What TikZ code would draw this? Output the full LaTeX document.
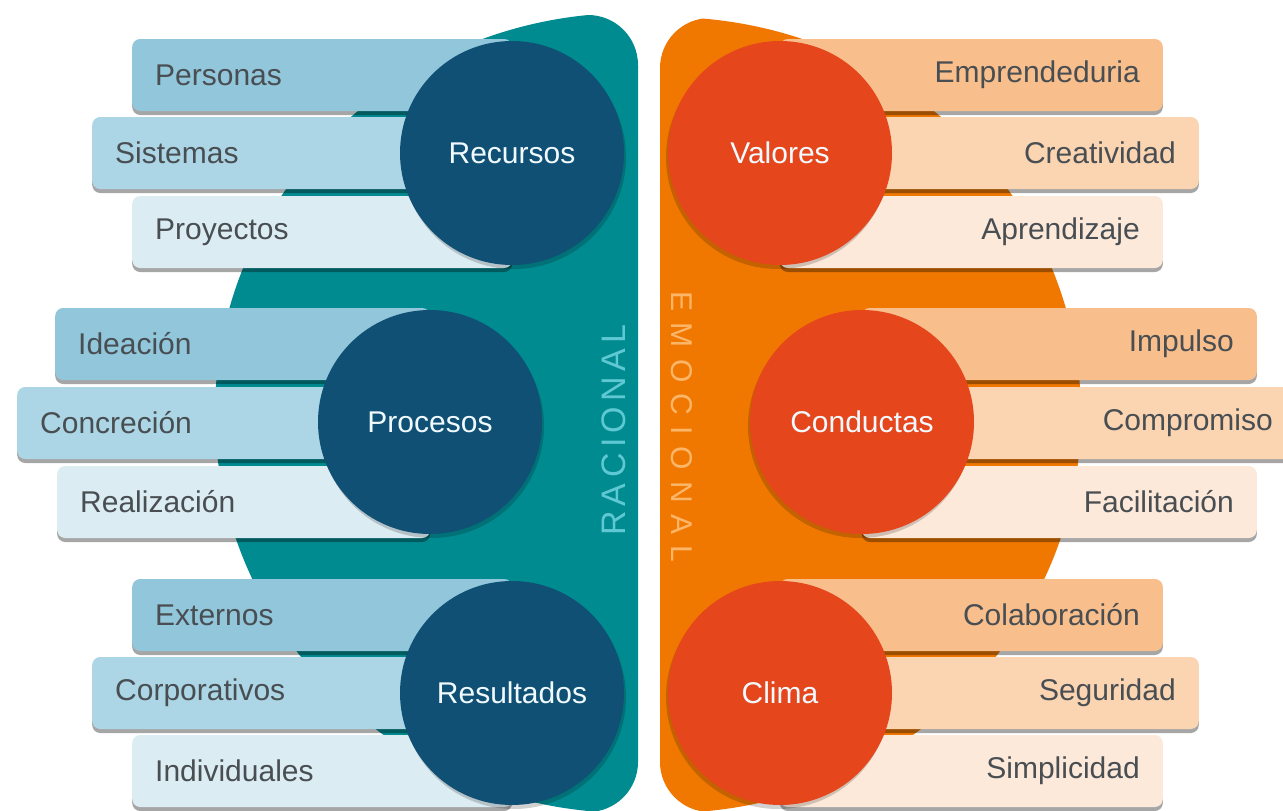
\documentclass[tikz,border=0pt]{standalone}
\usepackage{fontspec}
\setmainfont{Liberation Sans}
\newfontfamily\racfont[LetterSpace=16]{Liberation Sans}
\newfontfamily\emofont[LetterSpace=38]{Liberation Sans}
\usepackage{tikz}
\usetikzlibrary{%
        shadows
    }
\definecolor{tealband}{RGB}{0, 139, 145}
\definecolor{orangeband}{RGB}{240, 120, 0}
\definecolor{navyhub}{RGB}{16, 80, 116}
\definecolor{redhub}{RGB}{230, 70, 28}
\definecolor{blueA}{RGB}{145, 198, 219}
\definecolor{blueB}{RGB}{172, 214, 229}
\definecolor{blueC}{RGB}{220, 236, 243}
\definecolor{peachA}{RGB}{248, 190, 140}
\definecolor{peachB}{RGB}{251, 212, 178}
\definecolor{peachC}{RGB}{253, 233, 218}
\definecolor{bartext}{RGB}{72, 78, 82}
\definecolor{racionaltext}{RGB}{95, 200, 210}
\definecolor{emocionaltext}{RGB}{252, 182, 105}
\newcommand{\barfont}{\fontsize{30}{32}\selectfont}
\tikzset{%
    bar/.style={%
        rounded corners=8pt, minimum height=72pt, inner xsep=23pt,
        inner ysep=0pt, fill=#1, text=bartext, font=\barfont,
        drop shadow={shadow xshift=0pt, shadow yshift=-4pt,
            opacity=0.35, fill=black}
    },
    lbar/.style={bar=#1, anchor=west, align=left},
    rbar/.style={bar=#1, anchor=east, align=right},
    hub/.style={%
        circle, minimum size=224pt, inner sep=0pt, fill=#1,
        text=white!94!cyan, font=\barfont
    }
}

\begin{document}
\begin{tikzpicture}[x=1pt, y=-1pt]

    \fill[white] (0, 0) rectangle (1283, 811);
    \useasboundingbox (0, 0) rectangle (1283, 811);
    \clip (0, 0) rectangle (1283, 811);

    % the two half discs
    \begin{scope}
        \clip[rounded corners=50pt] (-60, 15) rectangle (638, 812);
        \fill[tealband] (630, 413) ellipse [x radius=415, y radius=400];
    \end{scope}
    \begin{scope}
        \clip[rounded corners=50pt] (660, 18) rectangle (1340, 812);
        \fill[orangeband] (666, 415) ellipse [x radius=415, y radius=398];
    \end{scope}

    \node[rotate=90, text=racionaltext, font=\racfont\fontsize{34}{34}\selectfont]
        (racional) at (614, 430) {RACIONAL};
    \node[rotate=-90, text=emocionaltext, font=\emofont\fontsize{30}{30}\selectfont]
        (emocional) at (682, 427) {EMOCIONAL};

    % bars on the left
    \foreach \lab/\x/\y/\cx/\col [count=\i, evaluate=\x as \tw using \cx-\x-46] in {%
            Personas/132/75/512/blueA, Sistemas/92/153/512/blueB,
            Proyectos/132/232/512/blueC,
            Ideación/55/344/430/blueA, Concreción/17/423/430/blueB,
            Realización/57/502/430/blueC,
            Externos/132/615/512/blueA, Corporativos/92/693/512/blueB,
            Individuales/132/771/512/blueC}{%
        \node[lbar=\col, text width=\tw pt] (lbar\i) at (\x, \y) {\lab};
    };

    % bars on the right
    \foreach \lab/\x/\y/\cx/\col [count=\i, evaluate=\x as \tw using \x-\cx-46] in {%
            Emprendeduria/1163/75/780/peachA, Creatividad/1199/153/780/peachB,
            Aprendizaje/1163/232/780/peachC,
            Impulso/1257/344/862/peachA, Compromiso/1296/423/862/peachB,
            Facilitación/1257/502/862/peachC,
            Colaboración/1163/615/780/peachA, Seguridad/1199/693/780/peachB,
            Simplicidad/1163/771/780/peachC}{%
        \node[rbar=\col, text width=\tw pt] (rbar\i) at (\x, \y) {\lab};
    };

    % hubs
    \foreach \lab/\x/\y [count=\i] in {%
            Recursos/512/153, Procesos/430/422, Resultados/512/693}{%
        \node[hub=navyhub, drop shadow={shadow xshift=2pt,
            shadow yshift=-4pt, opacity=0.18, fill=black}]
            (lhub\i) at (\x, \y) {\lab};
    };
    \foreach \lab/\x/\y [count=\i] in {%
            Valores/780/153, Conductas/862/422, Clima/780/693}{%
        \node[hub=redhub, drop shadow={shadow xshift=-2pt,
            shadow yshift=-4pt, opacity=0.18, fill=black}]
            (rhub\i) at (\x, \y) {\lab};
    };

\end{tikzpicture}
\end{document}
